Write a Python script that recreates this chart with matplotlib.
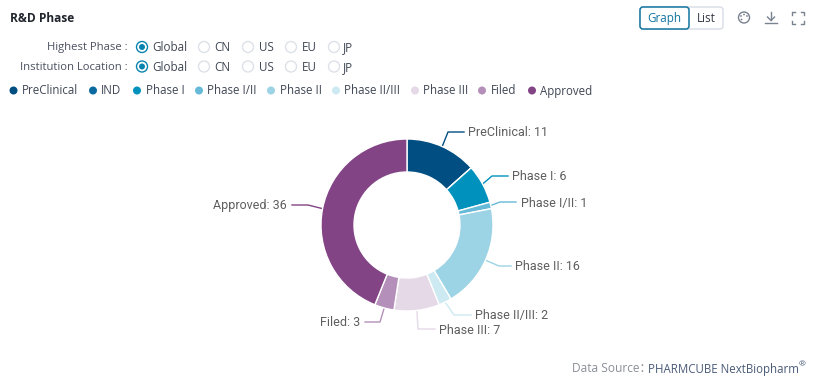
import math
import matplotlib
matplotlib.use("Agg")
import matplotlib.pyplot as plt
from matplotlib.patches import Circle, FancyBboxPatch

categories = ["PreClinical", "IND", "Phase I", "Phase I/II", "Phase II",
              "Phase II/III", "Phase III", "Filed", "Approved"]
values = [11, 0, 6, 1, 16, 2, 7, 3, 36]
colors = ["#004E82", "#0A6A9F", "#0092BC", "#66BAD8", "#9CD3E5",
          "#CDE9F2", "#E5D9E8", "#B48FB9", "#834486"]
regions = ["Global", "CN", "US", "EU", "JP"]
filters = ["Highest Phase :", "Institution Location :"]

UI = "Open Sans"
LAB = "Roboto"
W, H = 813, 381
fig = plt.figure(figsize=(W / 100, H / 100), dpi=100, facecolor="white")

# pixel-coordinate overlay
ov = fig.add_axes([0, 0, 1, 1])
ov.set_xlim(0, W)
ov.set_ylim(H, 0)
ov.axis("off")

# donut
CX, CY, R, r = 407, 225, 86, 53
pie_ax = fig.add_axes([(CX - R) / W, 1 - (CY + R) / H, 2 * R / W, 2 * R / H])
wedges, _ = pie_ax.pie(values, colors=colors, startangle=90, counterclock=False, radius=1,
                       wedgeprops=dict(width=(R - r) / R, edgecolor="white", linewidth=1))
pie_ax.set_xlim(-1, 1)
pie_ax.set_ylim(-1, 1)
pie_ax.set_aspect("equal")
for w in wedges:
    w.set_clip_on(False)

# leader lines: category -> (elbow, line end, text x, text y, ha)
leaders = {
    "PreClinical": ((448, 132), (464, 132), 468, 133, "left"),
    "Phase I": ((492, 176), (508, 176), 512, 177, "left"),
    "Phase I/II": ((500, 202), (516, 202), 520.5, 203, "left"),
    "Phase II": ((499, 266), (511, 266), 515, 267, "left"),
    "Phase II/III": ((454, 315), (471, 315), 475, 316, "left"),
    "Phase III": ((418, 329), (435, 329), 439, 330, "left"),
    "Filed": ((380, 322), (365, 322), 360, 323, "right"),
    "Approved": ((308, 205), (292, 205), 287, 206, "right"),
}
for w, cat, val, col in zip(wedges, categories, values, colors):
    if val == 0:
        continue
    mid = math.radians((w.theta1 + w.theta2) / 2)
    ax0 = CX + (R + 0.5) * math.cos(mid)
    ay0 = CY - (R + 0.5) * math.sin(mid)
    (ex, ey), (lx, ly), tx, ty, ha = leaders[cat]
    ov.plot([ax0, ex, lx], [ay0, ey, ly], color=col, lw=1, solid_joinstyle="round")
    ov.text(tx, ty, f"{cat}: {val}", ha=ha, va="center", fontsize=9.0, family=LAB, color="#5E5E5E")

ov.text(10, 19, "R&D Phase", fontsize=8.6, family=UI, weight="bold", color="#20242C", va="center")

# radio filters
radio_x = [142, 204, 248, 291, 334]
label_x = [152, 214, 259, 302, 343]
for y, label in zip([47, 66.5], filters):
    ov.text(128, y + 0.7, label, ha="right", va="center", fontsize=8.15, family=UI, color="#4B5160")
    for i, (rx, tx, reg) in enumerate(zip(radio_x, label_x, regions)):
        if i == 0:
            ov.add_patch(Circle((rx, y), 5.5, fc="white", ec="#0A84AE", lw=1))
            ov.add_patch(Circle((rx, y), 3, fc="#0A84AE", ec="none"))
        else:
            ov.add_patch(Circle((rx, y), 5.5, fc="white", ec="#DDE1E8", lw=1))
        ov.text(tx, y + 0.7, reg, va="center", fontsize=8.4, family=UI, color="#3F4654")

# legend
dot_x = [13.5, 93, 137, 199, 271, 336, 415, 482, 532]
text_x = [22, 101, 146, 207, 280, 344, 423, 491, 540]
for dx, tx, cat, col in zip(dot_x, text_x, categories, colors):
    ov.add_patch(Circle((dx, 90.5), 4, fc=col, ec="none"))
    ov.text(tx, 91, cat, va="center", fontsize=8.3, family=UI, color="#3F4654")

# Graph / List toggle
ov.add_patch(FancyBboxPatch((640, 7), 83, 22, boxstyle="round,pad=0,rounding_size=3",
                            fc="white", ec="#D8DCE4", lw=1))
ov.add_patch(FancyBboxPatch((640, 7), 49, 22, boxstyle="round,pad=0,rounding_size=3",
                            fc="white", ec="#11749E", lw=1.1))
ov.text(664, 18.5, "Graph", ha="center", va="center", fontsize=8.4, family=UI, color="#11749E")
ov.text(706.5, 18.5, "List", ha="center", va="center", fontsize=8.4, family=UI, color="#333844")

# toolbar icons
ICON = "#7A8290"
ov.add_patch(Circle((744, 17.5), 5.5, fc="white", ec=ICON, lw=1))
for px, py in [(741, 16), (744, 14.5), (747, 16), (741.5, 19.5)]:
    ov.add_patch(Circle((px, py), 0.9, fc=ICON, ec="none"))
ov.plot([771, 771], [12, 20], color=ICON, lw=1)
ov.plot([767.5, 771, 774.5], [17, 20.5, 17], color=ICON, lw=1)
ov.plot([765, 777], [22.5, 22.5], color=ICON, lw=1)
for sx, sy in [(792, 12), (804, 12), (792, 23.5), (804, 23.5)]:
    hx = 3 if sx < 798 else -3
    vy = 3 if sy < 18 else -3
    ov.plot([sx + hx, sx, sx], [sy, sy, sy + vy], color=ICON, lw=1)

# footer
ov.text(572, 369, "Data Source：", va="center", fontsize=8.6, family=["Open Sans", "Noto Sans CJK SC"], color="#8A8F98")
ov.text(648, 369, "PHARMCUBE NextBiopharm", va="center", fontsize=8.3, family=UI, color="#4A5A78")
ov.text(798.5, 365, "®", va="center", fontsize=6, family=UI, color="#4A5A78")

fig.savefig("out.png", dpi=100, facecolor="white")
